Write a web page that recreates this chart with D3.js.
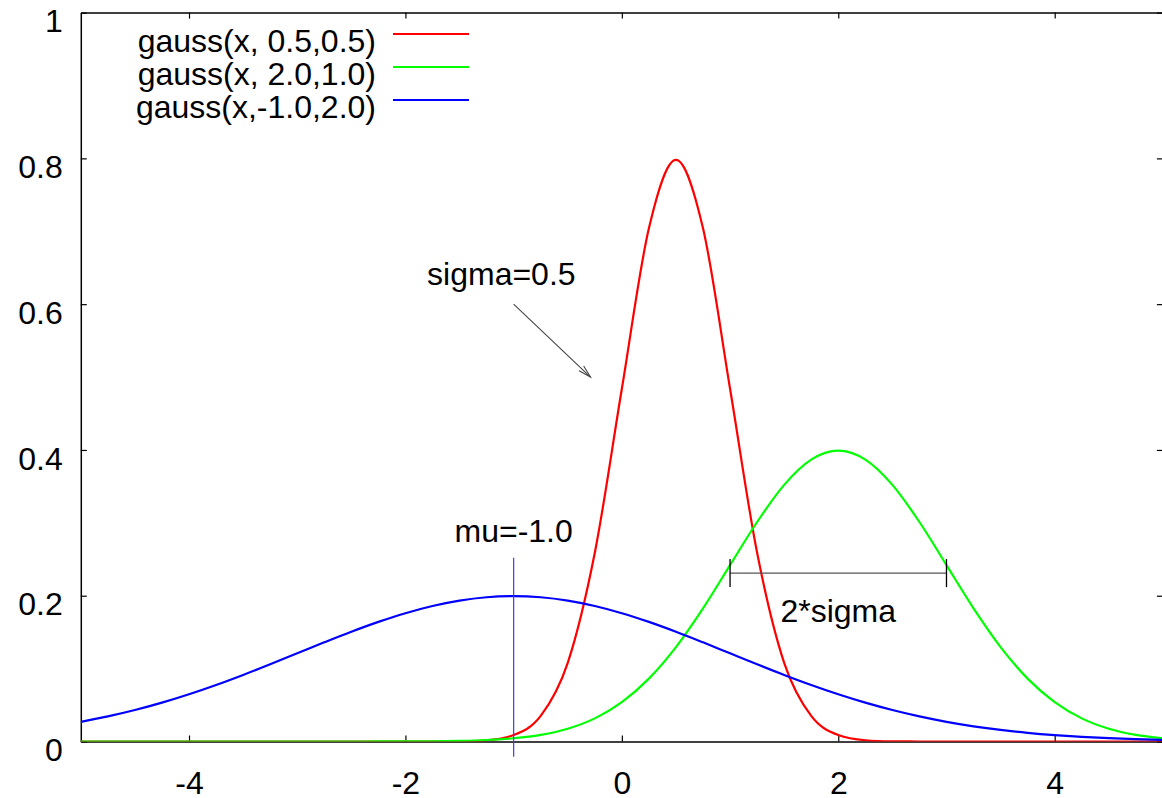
<!DOCTYPE html>
<html>
<head>
<meta charset="utf-8">
<script src="https://cdn.jsdelivr.net/npm/d3@7"></script>
<style>
  html, body { margin: 0; padding: 0; background: #fff; }
  svg { display: block; font-family: "Liberation Sans", Arial, sans-serif; }
</style>
</head>
<body>
<svg id="chart" width="1162" height="798"></svg>
<script>
// ---- data ----
const xs = [-5,-4.75,-4.5,-4.25,-4,-3.75,-3.5,-3.25,-3,-2.75,-2.5,-2.25,-2,-1.75,-1.5,-1.25,-1,-0.75,-0.5,-0.25,0,
            0.25,0.5,0.75,1,1.25,1.5,1.75,2,2.25,2.5,2.75,3,3.25,3.5,3.75,4,4.25,4.5,4.75,5];
const redValues = [0,0,0,0,0,0,0,0,0,0,0,0,0,
  0.00003,0.00027,0.00175,0.00886,0.0351,0.1080,0.2590,0.4839,0.7041,0.7979,0.7041,0.4839,0.2590,0.1080,0.0351,0.00886,0.00175,0.00027,0.00003,
  0,0,0,0,0,0,0,0,0];
const greenValues = [0,0,0,0,0,0,0,0,0,0,
  0.00002,0.00005,0.00013,0.00035,0.00087,0.00203,0.00443,0.00909,0.01753,0.03174,0.05399,0.08628,0.12952,0.18265,0.24197,0.30114,0.35207,0.38667,
  0.39894,0.38667,0.35207,0.30114,0.24197,0.18265,0.12952,0.08628,0.05399,0.03174,0.01753,0.00909,0.00443];
const blueValues = [0.02700,0.03439,0.04314,0.05327,0.06476,0.07751,0.09132,0.10594,0.12099,0.13603,0.15057,0.16408,0.17603,0.18593,0.19333,0.19792,
  0.19947,0.19792,0.19333,0.18593,0.17603,0.16408,0.15057,0.13603,0.12099,0.10594,0.09132,0.07751,0.06476,0.05327,0.04314,0.03439,0.02700,
  0.02086,0.01587,0.01188,0.00877,0.00636,0.00455,0.00320,0.00222];
const seriesNames = ["gauss(x, 0.5,0.5)", "gauss(x, 2.0,1.0)", "gauss(x,-1.0,2.0)"];
const seriesColors = ["#ff0000", "#00ff00", "#0000ff"];
const xTicks = [-4, -2, 0, 2, 4];
const xTickLabels = ["-4", "-2", "0", "2", "4"];
const yTicks = [0, 0.2, 0.4, 0.6, 0.8, 1];
const yTickLabels = ["0", "0.2", "0.4", "0.6", "0.8", "1"];
// annotations (data coordinates)
const sigmaLabel = {text: "sigma=0.5", x: -1.8, y: 0.642};
const sigmaArrow = {x1: -1.0, y1: 0.6, x2: -0.29, y2: 0.5};
const muLabel = {text: "mu=-1.0", x: -1.0, y: 0.29};
const muLine = {x: -1.0, y1: 0.252, y2: -0.021};
const twoSigmaLabel = {text: "2*sigma", x: 2.0, y: 0.18};
const twoSigmaBar = {x1: 1.0, x2: 3.0, y: 0.231};

// ---- layout ----
const svg = d3.select("#chart");
const FS = 32;
const x = d3.scaleLinear().domain([-5, 5]).range([80.8, 1162.9]);
const y = d3.scaleLinear().domain([0, 1]).range([741.5, 12.6]);

svg.append("defs").append("clipPath").attr("id", "clip")
  .append("rect").attr("x", x(-5)).attr("y", y(1)).attr("width", x(5) - x(-5)).attr("height", y(0) - y(1));

// axes
const axL = svg.append("g").attr("transform", `translate(${x(-5)},0)`)
  .call(d3.axisLeft(y).tickValues(yTicks).tickFormat((d, i) => yTickLabels[i]).tickSizeInner(-6).tickSizeOuter(0).tickPadding(18));
axL.selectAll("text").attr("dy", "0.6em");
const axB = svg.append("g").attr("transform", `translate(0,${y(0)})`)
  .call(d3.axisBottom(x).tickValues(xTicks).tickFormat((d, i) => xTickLabels[i]).tickSizeInner(-6).tickSizeOuter(0).tickPadding(30));
const axT = svg.append("g").attr("transform", `translate(0,${y(1)})`)
  .call(d3.axisTop(x).tickValues(xTicks).tickFormat("").tickSizeInner(-6).tickSizeOuter(0));
const axR = svg.append("g").attr("transform", `translate(${x(5)},0)`)
  .call(d3.axisRight(y).tickValues(yTicks).tickFormat("").tickSizeInner(-6).tickSizeOuter(0));
[axL, axB, axT, axR].forEach(g => {
  g.selectAll("path.domain").attr("stroke", "#000").attr("stroke-width", 1.5);
  g.selectAll(".tick line").attr("stroke", "#000").attr("stroke-width", 1.2);
  g.selectAll("text").attr("font-size", FS).attr("fill", "#000")
    .attr("font-family", "'Liberation Sans', Arial, sans-serif");
});

// curves
const allValues = [redValues, greenValues, blueValues];
const line = d3.line().x(d => x(d[0])).y(d => y(d[1])).curve(d3.curveMonotoneX);
const plot = svg.append("g").attr("clip-path", "url(#clip)");
allValues.forEach((vals, i) => {
  plot.append("path")
    .attr("d", line(xs.map((xv, j) => [xv, vals[j]])))
    .attr("fill", "none").attr("stroke", seriesColors[i]).attr("stroke-width", 2.2)
    .attr("stroke-linejoin", "round");
});

// mu vertical line
svg.append("line")
  .attr("x1", x(muLine.x)).attr("x2", x(muLine.x))
  .attr("y1", y(muLine.y1)).attr("y2", y(muLine.y2))
  .attr("stroke", "#3c3cff").attr("stroke-width", 1.2);

// 2*sigma bar
const bar = svg.append("g").attr("stroke", "#333").attr("stroke-width", 1.3);
bar.append("line").attr("x1", x(twoSigmaBar.x1)).attr("x2", x(twoSigmaBar.x2))
  .attr("y1", y(twoSigmaBar.y)).attr("y2", y(twoSigmaBar.y)).attr("stroke", "#555");
[twoSigmaBar.x1, twoSigmaBar.x2].forEach(v => {
  bar.append("line").attr("x1", x(v)).attr("x2", x(v))
    .attr("y1", y(twoSigmaBar.y) - 14).attr("y2", y(twoSigmaBar.y) + 14).attr("stroke", "#000");
});

// arrow
const ax1 = x(sigmaArrow.x1), ay1 = y(sigmaArrow.y1), ax2 = x(sigmaArrow.x2), ay2 = y(sigmaArrow.y2);
const ang = Math.atan2(ay2 - ay1, ax2 - ax1);
const hl = 13, ha = Math.PI / 12;
svg.append("line").attr("x1", ax1).attr("y1", ay1).attr("x2", ax2).attr("y2", ay2)
  .attr("stroke", "#444").attr("stroke-width", 1.1);
svg.append("path")
  .attr("d", `M${ax2 - hl * Math.cos(ang - ha)},${ay2 - hl * Math.sin(ang - ha)} L${ax2},${ay2} L${ax2 - hl * Math.cos(ang + ha)},${ay2 - hl * Math.sin(ang + ha)}`)
  .attr("fill", "none").attr("stroke", "#444").attr("stroke-width", 1.1);

// labels
const labels = svg.append("g").attr("font-size", FS).attr("fill", "#000");
labels.append("text").attr("x", x(sigmaLabel.x)).attr("y", y(sigmaLabel.y)).attr("dy", "0.36em")
  .attr("text-anchor", "start").text(sigmaLabel.text);
labels.append("text").attr("x", x(muLabel.x)).attr("y", y(muLabel.y)).attr("dy", "0.36em")
  .attr("text-anchor", "middle").text(muLabel.text);
labels.append("text").attr("x", x(twoSigmaLabel.x)).attr("y", y(twoSigmaLabel.y)).attr("dy", "0.36em")
  .attr("text-anchor", "middle").text(twoSigmaLabel.text);

// legend
const legend = svg.append("g");
seriesNames.forEach((name, i) => {
  const ly = 34 + i * 33;
  legend.append("text").attr("x", 376).attr("y", ly + 18).attr("text-anchor", "end")
    .attr("font-size", FS).attr("fill", "#000").text(name);
  legend.append("line").attr("x1", 393).attr("x2", 469).attr("y1", ly).attr("y2", ly)
    .attr("stroke", seriesColors[i]).attr("stroke-width", 2.2);
});
</script>
</body>
</html>
